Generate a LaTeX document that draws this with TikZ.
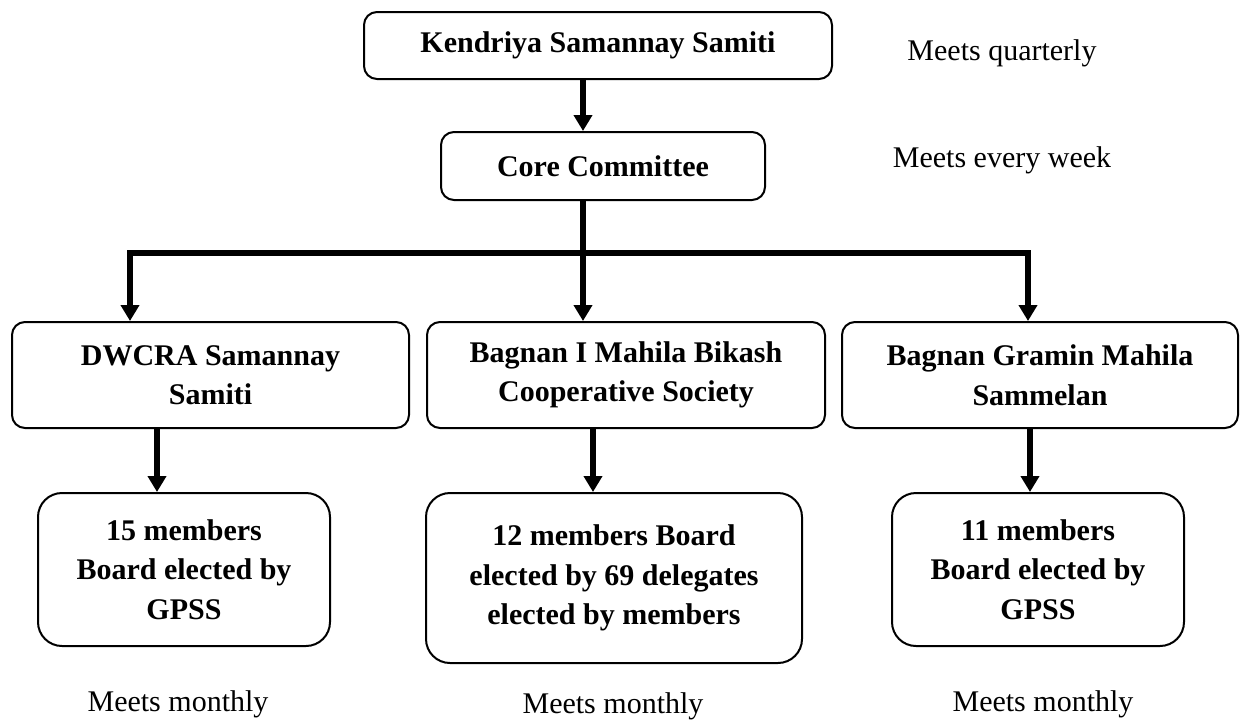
\documentclass[tikz,border=0pt]{standalone}
\usepackage{fontspec}
\setmainfont{Liberation Serif}
\usetikzlibrary{arrows.meta}
\newcommand{\bigtxt}{\fontsize{30}{39.5}\selectfont}

\tikzset{
 box/.style={draw,line width=2pt,rounded corners=13pt,align=center,inner sep=0pt,font=\bigtxt\bfseries},
 board/.style={box,rounded corners=24pt},
 link/.style={->,line width=5.2pt},
 note/.style={font=\bigtxt}
}

\begin{document}
\begin{tikzpicture}[x=1pt,y=-1pt,>={Triangle[length=16pt,width=18pt]}]
 \useasboundingbox (0,0) rectangle (1243,721);
 % top two levels
 \node[box,minimum width=468pt,minimum height=67pt] (k) at(598,45.5){Kendriya Samannay Samiti};
 \node[box,minimum width=324pt,minimum height=68pt] (c) at(603,166){Core Committee};
 \node[note] (nk) at(1002,53){Meets quarterly};
 \node[note] (nc) at(1002,160){Meets every week};
 % three bodies
 \node[box,minimum width=397pt,minimum height=106pt] (b1) at(210.5,375){DWCRA Samannay\\Samiti};
 \node[box,minimum width=398pt,minimum height=106pt] (b2) at(626,375){Bagnan I Mahila Bikash\\Cooperative Society};
 \node[box,minimum width=396pt,minimum height=106pt] (b3) at(1040,375){Bagnan Gramin Mahila\\Sammelan};
 % boards
 \node[board,minimum width=292pt,minimum height=153pt] (d1) at(184,569.5){15 members\\Board elected by\\GPSS};
 \node[board,minimum width=376pt,minimum height=170pt] (d2) at(614,578){12 members Board\\elected by 69 delegates\\elected by members};
 \node[board,minimum width=292pt,minimum height=153pt] (d3) at(1038,569.5){11 members\\Board elected by\\GPSS};
 \node[note] (n1) at(178,704){Meets monthly};
 \node[note] (n2) at(613,706){Meets monthly};
 \node[note] (n3) at(1043,704){Meets monthly};
 % connectors
 \coordinate (bl) at(130,253);
 \coordinate (bm) at(583,253);
 \coordinate (br) at(1028,253);
 \coordinate (x1) at(157,0);
 \coordinate (x2) at(593,0);
 \coordinate (x3) at(1030,0);
 \draw[link] (k.south -| bm)--(c.north -| bm);
 \draw[link] (c.south -| bm)--(b2.north -| bm);
 \draw[link,line join=miter] (bm) -| (b1.north -| bl);
 \draw[link,line join=miter] (bm) -| (b3.north -| br);
 \draw[link] (b1.south -| x1)--(d1.north -| x1);
 \draw[link] (b2.south -| x2)--(d2.north -| x2);
 \draw[link] (b3.south -| x3)--(d3.north -| x3);
\end{tikzpicture}
\end{document}
